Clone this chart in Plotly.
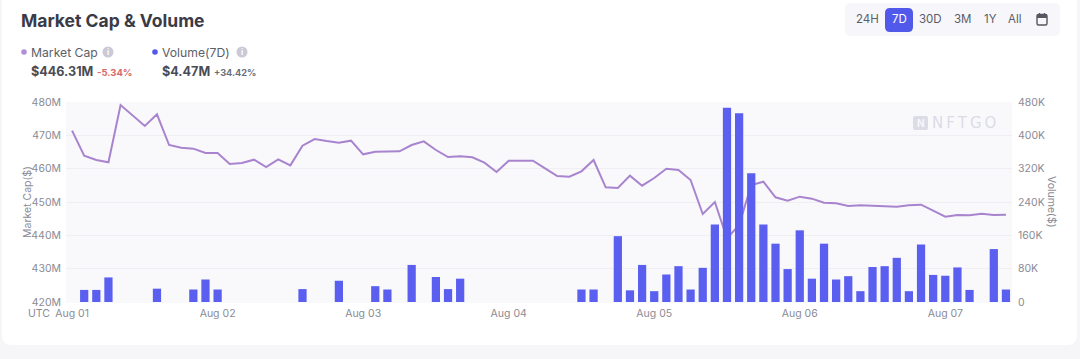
import pandas as pd
import plotly.graph_objects as go

FONT = "Inter"
times = pd.date_range("2022-08-01 00:00", periods=78, freq="2h")

market_cap_m = [
    471.4, 463.9, 462.6, 461.9, 479.1, 475.9, 472.8, 476.3, 467.1, 466.3, 466.0, 464.7, 464.7,
    461.4, 461.7, 462.7, 460.5, 462.8, 461.0, 466.9, 468.9, 468.3, 467.8, 468.4, 464.3, 465.1,
    465.2, 465.2, 467.1, 468.2, 465.6, 463.5, 463.7, 463.4, 461.8, 459.0, 462.4, 462.3, 462.4,
    460.1, 457.8, 457.6, 459.2, 462.6, 454.4, 454.2, 457.9, 454.9, 457.2, 460.0, 459.6, 456.6,
    446.4, 450.0, 439.1, 443.1, 455.1, 456.1, 451.4, 450.4, 451.6, 451.0, 449.8, 449.6, 448.8,
    449.0, 448.8, 448.7, 448.6, 449.0, 449.2, 447.4, 445.6, 446.1, 446.0, 446.5, 446.1, 446.2,
]
volume_k = [
    0, 29, 29, 59, 0, 0, 0, 32, 0, 0, 30, 54, 30,
    0, 0, 0, 0, 0, 0, 31, 0, 0, 51, 0, 0, 38,
    30, 0, 89, 0, 60, 31, 56, 0, 0, 0, 0, 0, 0,
    0, 0, 0, 30, 30, 0, 158, 28, 89, 26, 66, 86, 30,
    82, 186, 466, 453, 309, 186, 140, 79, 172, 56, 140, 54, 62,
    26, 84, 86, 106, 26, 138, 65, 63, 83, 29, 0, 127, 30,
]
left_ticks = [420, 430, 440, 450, 460, 470, 480]
left_labels = ["420M", "430M", "440M", "450M", "460M", "470M", "480M"]
right_ticks = [0, 80, 160, 240, 320, 400, 480]
right_labels = ["0", "80K", "160K", "240K", "320K", "400K", "480K"]
range_labels = ["24H", "7D", "30D", "3M", "1Y", "All"]
range_centers = [867, 899, 930, 963, 990, 1015]

W, H = 1080, 359
L, R, T, B = 66, 1012, 102, 302


def px(x):
    return (x - L) / (R - L)


def py(y):
    return (B - y) / (B - T)


def round_rect(x0, y0, x1, y1, r):
    a, b, c, d = px(x0), px(x1), py(y0), py(y1)
    rx, ry = r / (R - L), r / (B - T)
    return (
        f"M {a+rx} {c} L {b-rx} {c} Q {b} {c} {b} {c-ry} L {b} {d+ry} Q {b} {d} {b-rx} {d} "
        f"L {a+rx} {d} Q {a} {d} {a} {d+ry} L {a} {c-ry} Q {a} {c} {a+rx} {c} Z"
    )


shapes = []


def path_shape(x0, y0, x1, y1, r, fill, line="rgba(0,0,0,0)", layer="below", w=1):
    shapes.append(dict(type="path", xref="paper", yref="paper", path=round_rect(x0, y0, x1, y1, r),
                       fillcolor=fill, line=dict(color=line, width=w), layer=layer))


def circle(cx, cy, r, fill):
    shapes.append(dict(type="circle", xref="paper", yref="paper", x0=px(cx - r), x1=px(cx + r),
                       y0=py(cy + r), y1=py(cy - r), fillcolor=fill, line=dict(width=0), layer="above"))


annotations = []


def text(x, y, s, size, color, anchor="left", bold=False, angle=0):
    annotations.append(dict(
        x=px(x), y=py(y), xref="paper", yref="paper", xanchor=anchor, yanchor="middle",
        text=f"<b>{s}</b>" if bold else s, showarrow=False, textangle=angle,
        borderpad=0, borderwidth=0,
        font=dict(family=FONT, size=size, color=color)))


# card, plot panel and controls
path_shape(2, -12, 1077, 345, 10, "#ffffff")
path_shape(L, T, R, B + 1, 0, "#f9f9fc")
path_shape(845, 3, 1060, 36, 6, "#f7f7fb")
path_shape(885, 8, 913, 32, 5, "#5159ea", layer="above")

text(21, 20, "Market Cap &amp; Volume", 17.5, "#3a3b46", bold=True)
circle(24, 52, 2.8, "#b08fd6")
text(30.5, 52, "Market Cap", 12.2, "#5c5e68")
circle(108, 52, 5.5, "#c9c9d8")
text(108, 52, "i", 8, "#ffffff", anchor="center", bold=True)
text(30.5, 71, "$446.31M", 12.6, "#4a4b55", bold=True)
text(96.5, 72, "-5.34%", 9.5, "#d8696a", bold=True)
circle(155, 52, 2.8, "#5159ea")
text(161.5, 52, "Volume(7D)", 12.2, "#5c5e68")
circle(242, 52, 5.5, "#c9c9d8")
text(242, 52, "i", 8, "#ffffff", anchor="center", bold=True)
text(162, 71, "$4.47M", 12.6, "#4a4b55", bold=True)
text(214, 72, "+34.42%", 9.2, "#67707a", bold=True)

for label, cx in zip(range_labels, range_centers):
    text(cx, 19.5, label, 11.5, "#ffffff" if label == "7D" else "#5a5c68", anchor="center")

# calendar icon
path_shape(1037, 14.5, 1047, 25, 1.5, "rgba(0,0,0,0)", line="#55565f", layer="above", w=1.4)
path_shape(1037, 14.5, 1047, 18, 1, "#55565f", layer="above")
for tx in (1039.5, 1044.5):
    shapes.append(dict(type="line", xref="paper", yref="paper", x0=px(tx), x1=px(tx), y0=py(13), y1=py(15),
                       line=dict(color="#55565f", width=1.2), layer="above"))

# watermark
path_shape(913, 116, 928, 130, 2, "#dcdce6", layer="below")
text(920.5, 123, "N", 10, "#f7f7fb", anchor="center", bold=True)
annotations.append(dict(x=px(932), y=py(123), xref="paper", yref="paper", xanchor="left", yanchor="middle",
                        text="N\u2009F\u2009T\u2009G\u2009O", showarrow=False, borderpad=0, borderwidth=0,
                        font=dict(family="DejaVu Sans", size=15, color="#dcdce6")))

text(39, 313, "UTC", 10.5, "#8a8b95", anchor="center")
text(27, 202, "Market Cap($)", 10.5, "#8a8b95", anchor="center", angle=-90)
text(1052, 201, "Volume($)", 10.5, "#8a8b95", anchor="center", angle=90)

fig = go.Figure()
fig.add_bar(x=times, y=volume_k, yaxis="y2", width=4896000,
            marker=dict(color="#5a5ff0", line=dict(width=0)), name="Volume(7D)")
fig.add_scatter(x=times, y=market_cap_m, yaxis="y", mode="lines", name="Market Cap",
                line=dict(color="#a884cf", width=2))

fig.update_layout(
    width=W, height=H, autosize=False, showlegend=False,
    margin=dict(l=L, r=W - R, t=T, b=H - B),
    paper_bgcolor="#f6f6f9", plot_bgcolor="rgba(0,0,0,0)",
    font=dict(family=FONT, size=10.5, color="#8a8b95"),
    shapes=shapes, annotations=annotations,
    xaxis=dict(type="date", range=["2022-07-31 23:00", "2022-08-07 11:00"], tick0="2022-08-01",
               dtick=86400000, tickformat="%b %d", showgrid=False, zeroline=False, ticks="",
               showline=False, ticklabelstandoff=3, tickfont=dict(size=10.5, color="#8a8b95")),
    yaxis=dict(range=[420, 480], tickvals=left_ticks, ticktext=left_labels, side="left",
               gridcolor="#eeeef3", gridwidth=1, zeroline=False, showline=False, ticks="",
               ticklabelstandoff=4, tickfont=dict(size=10.5, color="#8a8b95")),
    yaxis2=dict(range=[0, 480], tickvals=right_ticks, ticktext=right_labels, side="right",
                overlaying="y", showgrid=False, zeroline=False, showline=False, ticks="",
                ticklabelstandoff=5, tickfont=dict(size=10.5, color="#8a8b95")),
)
fig.write_html("out.html", config=dict(displayModeBar=False),
               post_script="document.body.style.margin='0';document.documentElement.style.overflow='hidden';")
